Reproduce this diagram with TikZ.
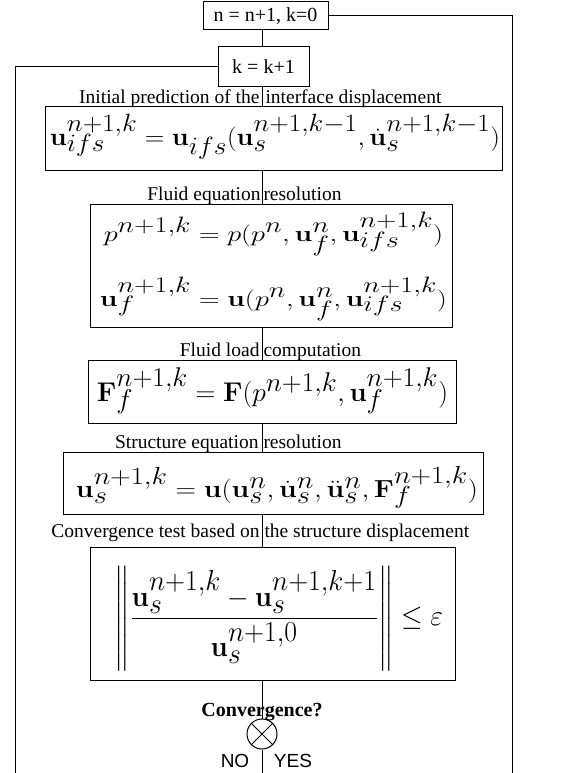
\documentclass[tikz,border=0pt]{standalone}
\usepackage{amsmath}
\usepackage{graphicx}
\usepackage[no-math]{fontspec}
\setmainfont{Liberation Serif}
\newfontfamily\arialfont{Liberation Sans}
\newcommand{\ts}[1]{\smash[t]{#1}}
\newcommand{\up}[1]{\raisebox{5pt}{$\scriptstyle #1$}}
\begin{document}
\begin{tikzpicture}[x=1pt,y=-1pt,line width=1pt]
\tikzset{
  flowbox/.style={draw, inner sep=0pt, outer sep=0pt, font=\fontsize{20}{24}\selectfont},
  eqn/.style={inner sep=0pt, outer sep=0pt, font=\fontsize{33}{40}\selectfont},
  lbl/.style={inner sep=0pt, font=\fontsize{19.5}{23}\selectfont},
  yn/.style={inner sep=0pt, font=\arialfont\fontsize{19}{23}\selectfont},
  conn/.style={line width=1pt},
}
\fill[white] (0,0) rectangle (562,773);
\useasboundingbox (0,0) rectangle (562,773);

\coordinate (col) at (262,0);
\coordinate (bl) at (15,773);
\coordinate (br) at (512,773);
\coordinate (bc) at (262,773);

% boxes
\node[flowbox, minimum width=125pt, minimum height=28pt] (top) at (265.5,16) {n = n+1, k=0};
\node[flowbox, minimum width=91pt, minimum height=40pt] (kk) at (263.5,67) {k = k+1};
\node[flowbox, minimum width=457pt, minimum height=63pt] (b1) at (273.5,138.5) {};
\node[flowbox, minimum width=362pt, minimum height=123pt] (b2) at (271,265.5) {};
\node[flowbox, minimum width=368pt, minimum height=63pt] (b3) at (272,391.5) {};
\node[flowbox, minimum width=420pt, minimum height=62pt] (b4) at (273,483) {};
\node[flowbox, minimum width=365pt, minimum height=133pt] (b5) at (272.5,613.5) {};
\node[draw, circle, minimum size=30pt, inner sep=0pt] (cv) at (262,734) {};

% equations
\node[eqn] (e1) at (275,136.5)
  {\resizebox*{450pt}{45pt}{$\mathbf{u}_{\ts{ifs}}^{\up{n+1,k}} = \mathbf{u}_{ifs}(\mathbf{u}_s^{n+1,k-1}, \dot{\mathbf{u}}_s^{n+1,k-1})$}};
\node[eqn] (e2) at (273.5,266.5)
  {\resizebox*{347pt}{108pt}{$\begin{aligned} p^{n+1,k} &= p(p^n, \mathbf{u}_f^n, \mathbf{u}_{\ts{ifs}}^{\up{n+1,k}}) \\[20pt] \mathbf{u}_{\ts{f}}^{\up{n+1,k}} &= \mathbf{u}(p^n, \mathbf{u}_f^n, \mathbf{u}_{\ts{ifs}}^{\up{n+1,k}})\end{aligned}$}};
\node[eqn] (e3) at (272.5,390.5)
  {\resizebox*{351pt}{46pt}{$\mathbf{F}_{\ts{f}}^{\up{n+1,k}} = \mathbf{F}(p^{n+1,k}, \mathbf{u}_{\ts{f}}^{\up{n+1,k}})$}};
\node[eqn] (e4) at (277,487.5)
  {\resizebox*{402pt}{42pt}{$\mathbf{u}_s^{n+1,k} = \mathbf{u}(\mathbf{u}_s^n, \dot{\mathbf{u}}_s^n, \ddot{\mathbf{u}}_s^n, \mathbf{F}_{\ts{f}}^{\up{n+1,k}})$}};
\node[eqn] (e5) at (279,618.5)
  {\resizebox*{328pt}{104pt}{$\displaystyle \left\| \frac{\mathbf{u}_s^{n+1,k} - \mathbf{u}_s^{n+1,k+1}}{\mathbf{u}_s^{n+1,0}} \right\| \le \varepsilon$}};

% connectors
\draw[conn] (top.south -| col) -- (kk.north -| col);
\draw[conn] (kk.south -| col) -- (b1.north -| col);
\draw[conn] (b1.south -| col) -- (b2.north -| col);
\draw[conn] (b2.south -| col) -- (b3.north -| col);
\draw[conn] (b3.south -| col) -- (b4.north -| col);
\draw[conn] (b4.south -| col) -- (b5.north -| col);
\draw[conn] (b5.south -| col) -- (cv.north);
\draw[conn] (cv.south) -- (bc);
\draw[conn] (cv.north west) -- (cv.south east);
\draw[conn] (cv.north east) -- (cv.south west);
\draw[conn] (kk.west) -| (bl);
\draw[conn] (top.east) -| (br);

% labels
\node[lbl, anchor=base east] (l1a) at (260,103) {Initial prediction of the};
\node[lbl, anchor=base west] (l1b) at (265,103) {interface displacement};
\node[lbl, anchor=base east] (l2a) at (261,200) {Fluid equation};
\node[lbl, anchor=base west] (l2b) at (263,200) {resolution};
\node[lbl, anchor=base east] (l3a) at (260,356) {Fluid load};
\node[lbl, anchor=base west] (l3b) at (263,356) {computation};
\node[lbl, anchor=base east] (l4a) at (259,448) {Structure equation};
\node[lbl, anchor=base west] (l4b) at (263,448) {resolution};
\node[lbl, anchor=base east] (l5a) at (260,537) {Convergence test based on};
\node[lbl, anchor=base west] (l5b) at (264,537) {the structure displacement};
\node[lbl, anchor=base, font=\bfseries\fontsize{20}{24}\selectfont] (cq) at (262,716) {Convergence?};
\node[yn, anchor=base] (no) at (235,767) {NO};
\node[yn, anchor=base] (yes) at (293,767) {YES};
\end{tikzpicture}
\end{document}
